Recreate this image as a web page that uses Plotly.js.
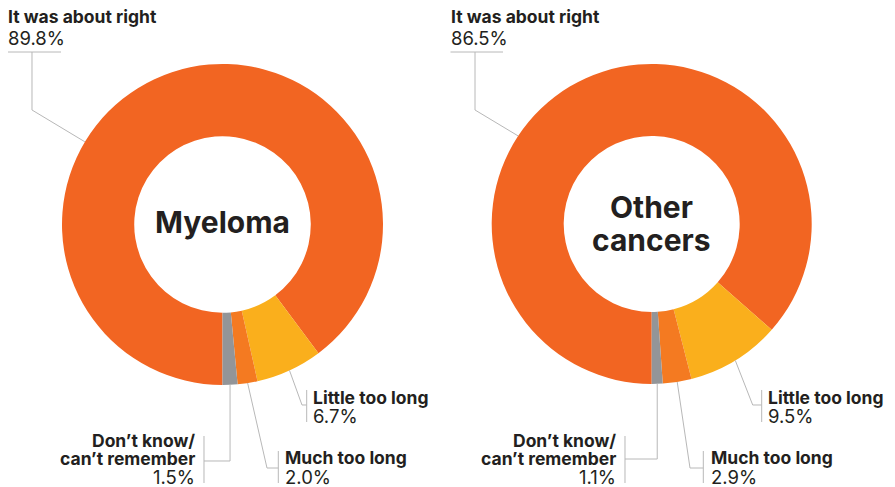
<!DOCTYPE html>
<html>
<head>
<meta charset="utf-8">
<script src="https://cdn.plot.ly/plotly-3.0.1.min.js"></script>
<style>html,body{margin:0;padding:0;background:#fff;}#chart{width:895px;height:487px;}</style>
</head>
<body>
<div id="chart"></div>
<script>
// ---- data ----
const categories = ['It was about right', 'Little too long', 'Much too long', 'Don’t know/ can’t remember'];
const myelomaValues = [89.8, 6.7, 2.0, 1.5];
const otherValues = [86.5, 9.5, 2.9, 1.1];
const chartNames = [['Myeloma'], ['Other', 'cancers']];
const labelLines = [['It was about right'], ['Little too long'], ['Much too long'], ['Don’t know/', 'can’t remember']];

// ---- style ----
const sliceColors = ['#F26522', '#FAAF1C', '#F47A21', '#939598'];
const W = 895, H = 487;
const FONT = 'Inter, "Open Sans", sans-serif';
const TEXT = '#231F20';
const LINE = '#B8B8B8';
const BOLD_SIZE = 17.5, REG_SIZE = 18.5;

const px = x => x / W;
const py = y => 1 - y / H;

// donut geometry (pixels)
const donuts = [
  {values: myelomaValues, cx: 222.5, cy: 224.5, r: 160.5, name: chartNames[0], nameY: [222], bigAngle: 301,
   top: {x: 8, y1: 16, y2: 38, hline: [8, 61, 52], vx: 32, vy: 110},
   little: {tx: 313, y1: 397, y2: 415.5, knee: [302, 405], bar: 306.7},
   much: {tx: 285, y1: 457.7, y2: 476.7, knee: [267, 468], bar: 278.3},
   dk: {tx: 195, ys: [440, 458, 477], kneeY: 461, bar: 204}},
  {values: otherValues, cx: 651.7, cy: 224, r: 160, name: chartNames[1], nameY: [207, 239.5], bigAngle: 303.4,
   top: {x: 450.5, y1: 16, y2: 38, hline: [450.5, 503, 52], vx: 475, vy: 110},
   little: {tx: 767.7, y1: 397, y2: 415.5, knee: [752.7, 405], bar: 761.7},
   much: {tx: 710.7, y1: 457.7, y2: 476.7, knee: [690, 468], bar: 703.3},
   dk: {tx: 615.7, ys: [440, 458, 477], kneeY: 459, bar: 625}}
];

const traces = [];
const annotations = [];
const shapes = [];

function pt(d, angleDeg) {
  const a = angleDeg * Math.PI / 180;
  return [d.cx + d.r * Math.sin(a), d.cy - d.r * Math.cos(a)];
}
function midAngle(values, i) {
  const total = values.reduce((a, b) => a + b, 0);
  let cum = 0;
  for (let k = 0; k < i; k++) cum += values[k];
  cum += values[i] / 2;
  return 180 + 360 * cum / total;
}
function pathShape(points) {
  const p = points.map((q, i) => (i ? 'L' : 'M') + px(q[0]).toFixed(5) + ',' + py(q[1]).toFixed(5)).join(' ');
  shapes.push({type: 'path', xref: 'paper', yref: 'paper', path: p, line: {color: LINE, width: 1}});
}
function txt(x, y, text, bold, anchor, size) {
  annotations.push({
    xref: 'paper', yref: 'paper', x: px(x), y: py(y), xanchor: anchor || 'left', yanchor: 'middle',
    text: bold ? '<b>' + text + '</b>' : text, showarrow: false, borderpad: 0,
    font: {family: FONT, size: size || (bold ? BOLD_SIZE : REG_SIZE), color: TEXT}
  });
}
const pct = v => v.toFixed(1) + '%';

donuts.forEach(d => {
  traces.push({
    type: 'pie', values: d.values, labels: categories, sort: false, direction: 'clockwise', rotation: 180,
    hole: 0.55, textinfo: 'none', hoverinfo: 'label+percent',
    marker: {colors: sliceColors, line: {width: 0}},
    domain: {x: [px(d.cx - d.r), px(d.cx + d.r)], y: [py(d.cy + d.r), py(d.cy - d.r)]}
  });
  // centre title
  d.name.forEach((line, i) => txt(d.cx, d.nameY[i], line, true, 'center', 30));
  // top label
  txt(d.top.x - 1, d.top.y1, labelLines[0][0], true);
  txt(d.top.x - 1, d.top.y2, pct(d.values[0]), false);
  shapes.push({type: 'line', xref: 'paper', yref: 'paper', x0: px(d.top.hline[0]), x1: px(d.top.hline[1]),
    y0: py(d.top.hline[2]), y1: py(d.top.hline[2]), line: {color: LINE, width: 1}});
  pathShape([[d.top.vx, d.top.hline[2]], [d.top.vx, d.top.vy], pt(d, d.bigAngle)]);
  // little too long
  const pl = pt(d, midAngle(d.values, 1));
  pathShape([pl, d.little.knee, [d.little.bar, d.little.knee[1]]]);
  pathShape([[d.little.bar, 390], [d.little.bar, 422]]);
  txt(d.little.tx - 1, d.little.y1, labelLines[1][0], true);
  txt(d.little.tx - 1, d.little.y2, pct(d.values[1]), false);
  // much too long
  const pm = pt(d, midAngle(d.values, 2));
  pathShape([pm, d.much.knee, [d.much.bar, d.much.knee[1]]]);
  pathShape([[d.much.bar, 451], [d.much.bar, 483]]);
  txt(d.much.tx - 1, d.much.y1, labelLines[2][0], true);
  txt(d.much.tx - 1, d.much.y2, pct(d.values[2]), false);
  // don't know
  const pd = pt(d, midAngle(d.values, 3));
  pathShape([pd, [pd[0], d.dk.kneeY], [d.dk.bar, d.dk.kneeY]]);
  pathShape([[d.dk.bar, 436], [d.dk.bar, 483]]);
  txt(d.dk.tx + 1, d.dk.ys[0], labelLines[3][0], true, 'right');
  txt(d.dk.tx + 1, d.dk.ys[1], labelLines[3][1], true, 'right');
  txt(d.dk.tx + 1, d.dk.ys[2], pct(d.values[3]), false, 'right');
});

const layout = {
  width: W, height: H, margin: {l: 0, r: 0, t: 0, b: 0},
  paper_bgcolor: '#ffffff', plot_bgcolor: '#ffffff', showlegend: false,
  annotations: annotations, shapes: shapes
};
Plotly.newPlot('chart', traces, layout, {displayModeBar: false, staticPlot: true});
</script>
</body>
</html>
